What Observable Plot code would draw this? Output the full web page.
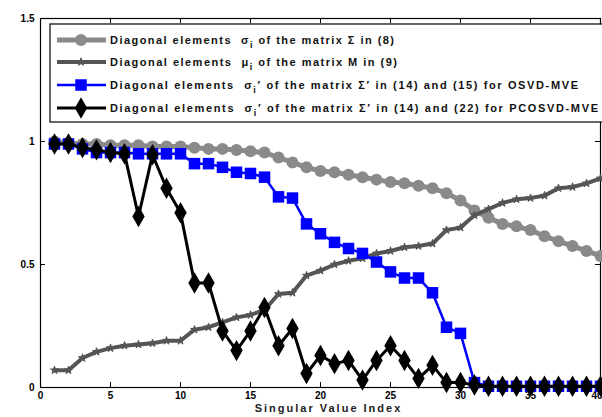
<!DOCTYPE html>
<html><head><meta charset="utf-8">
<script src="https://cdn.jsdelivr.net/npm/d3@7"></script>
<script src="https://cdn.jsdelivr.net/npm/@observablehq/plot@0.6"></script>
<style>body{margin:0;background:#fff;} #chart{width:602px;height:417px;overflow:hidden;}</style>
</head><body><div id="chart"></div>
<script>
const index = d3.range(1, 41);
const sigma = [1.0, 0.995, 0.99, 0.99, 0.985, 0.985, 0.985, 0.98, 0.98, 0.98,
  0.975, 0.97, 0.97, 0.965, 0.96, 0.955, 0.935, 0.915, 0.895, 0.88,
  0.875, 0.865, 0.855, 0.845, 0.835, 0.83, 0.82, 0.81, 0.79, 0.76,
  0.72, 0.69, 0.665, 0.655, 0.64, 0.615, 0.595, 0.575, 0.555, 0.535];
const mu = [0.07, 0.07, 0.12, 0.145, 0.16, 0.17, 0.175, 0.18, 0.19, 0.19,
  0.235, 0.245, 0.265, 0.285, 0.295, 0.315, 0.38, 0.385, 0.455, 0.475,
  0.5, 0.515, 0.525, 0.545, 0.555, 0.57, 0.575, 0.585, 0.64, 0.65,
  0.7, 0.725, 0.75, 0.765, 0.77, 0.78, 0.81, 0.815, 0.83, 0.85];
const osvd = [0.99, 0.99, 0.97, 0.955, 0.955, 0.955, 0.95, 0.95, 0.95, 0.95,
  0.91, 0.91, 0.895, 0.875, 0.87, 0.855, 0.775, 0.77, 0.665, 0.625,
  0.59, 0.565, 0.545, 0.51, 0.47, 0.445, 0.445, 0.385, 0.245, 0.22,
  0.02, 0.005, 0.005, 0.005, 0.005, 0.005, 0.005, 0.005, 0.005, 0.005];
const pcosvd = [0.99, 0.99, 0.975, 0.966, 0.955, 0.95, 0.695, 0.946, 0.81, 0.71,
  0.425, 0.425, 0.23, 0.15, 0.23, 0.325, 0.17, 0.24, 0.057, 0.13,
  0.097, 0.11, 0.03, 0.11, 0.17, 0.11, 0.037, 0.09, 0.02, 0.02,
  0.01, 0.005, 0.005, 0.005, 0.005, 0.005, 0.005, 0.005, 0.005, 0.005];
const xTicks = [0, 5, 10, 15, 20, 25, 30, 35, 40];
const yTicks = [0, 0.5, 1, 1.5];
const yTickLabels = ["0", "0.5", "1", "1.5"];
const xLabel = "Singular Value Index";
const seriesNames = ["sigma", "mu", "osvd", "pcosvd"];
// legend text segments: [text, kind] where kind = "n" normal, "sub" subscript
const legendTexts = [
  [["Diagonal elements  σ", "n"], ["i", "sub"], [" of the matrix Σ in (8)", "n"]],
  [["Diagonal elements  μ", "n"], ["i", "sub"], [" of the matrix M in (9)", "n"]],
  [["Diagonal elements  σ", "n"], ["i", "sub"], ["′ of the matrix Σ′ in (14) and (15) for OSVD-MVE", "n"]],
  [["Diagonal elements  σ", "n"], ["i", "sub"], ["′ of the matrix Σ′ in (14) and (22) for PCOSVD-MVE", "n"]]
];

const styles = {
  sigma: {stroke: "#8a8a8a", sw: 5, symbol: "circle", r: 6},
  mu: {stroke: "#555555", sw: 4, symbol: "star", r: 2.5},
  osvd: {stroke: "#0000ff", sw: 2.5, symbol: "square", r: 6.5},
  pcosvd: {stroke: "#000000", sw: 3, symbol: "diamond", r: 6.5}
};
const values = {sigma, mu, osvd, pcosvd};
const tables = Object.fromEntries(seriesNames.map(n => [n, index.map((x, i) => ({x, y: values[n][i]}))]));

const W = 602, H = 417, mT = 18, mB = 30, mL = 40, mR = 2;
const innerH = H - mT - mB, innerW = W - mL - mR;
const tick = 5;

const marks = [
  Plot.frame({stroke: "black", strokeWidth: 1.2}),
  Plot.tickX(xTicks, {x: d => d, insetTop: innerH - tick, stroke: "black"}),
  Plot.tickX(xTicks, {x: d => d, insetBottom: innerH - tick, stroke: "black"}),
  Plot.tickY(yTicks, {y: d => d, insetRight: innerW - tick, stroke: "black"}),
  Plot.tickY(yTicks, {y: d => d, insetLeft: innerW - tick, stroke: "black"}),
  Plot.axisX({ticks: xTicks, tickSize: 0, tickPadding: 4, label: null, fontWeight: "bold", fontSize: 10}),
  Plot.axisY({ticks: yTicks, tickSize: 0, tickPadding: 6, label: null, tickFormat: d => yTickLabels[yTicks.indexOf(d)], fontWeight: "bold", fontSize: 10}),
  Plot.text([xLabel], {frameAnchor: "bottom", dy: 24, dx: 8, text: d => d, fontWeight: "bold", fontSize: 11, fill: "#222"})
];
for (const n of seriesNames) {
  const s = styles[n];
  marks.push(Plot.line(tables[n], {x: "x", y: "y", stroke: s.stroke, strokeWidth: s.sw}));
  marks.push(Plot.dot(tables[n], {x: "x", y: "y", symbol: () => s.symbol, r: s.r, fill: s.stroke, stroke: s.stroke, strokeWidth: n === "mu" ? 1 : 0}));
}

const chart = Plot.plot({
  width: W, height: H,
  marginTop: mT, marginBottom: mB, marginLeft: mL, marginRight: mR,
  x: {domain: [0, 40]},
  y: {domain: [0, 1.5]},
  symbol: {type: "identity"},
  style: {fontFamily: "Liberation Sans, Arial, sans-serif", background: "white", color: "black"},
  marks
});
document.getElementById("chart").appendChild(chart);

const svg = d3.select(chart);
svg.selectAll("text").filter(function () { return this.textContent === xLabel; })
  .attr("letter-spacing", 2);
// keep the last x tick label ("40") inside the picture
svg.selectAll("[aria-label='x-axis tick label'] text")
  .filter(function () { return this.textContent === String(xTicks[xTicks.length - 1]); })
  .attr("text-anchor", "end").attr("dx", 2);

// Legend drawn inside the plot area
const lg = svg.append("g").attr("font-family", "Liberation Sans, Arial, sans-serif")
  .attr("font-weight", "bold").attr("font-size", 11).attr("text-anchor", "start");
lg.append("rect").attr("x", 50).attr("y", 24).attr("width", 560).attr("height", 98)
  .attr("fill", "white").attr("stroke", "black").attr("stroke-width", 1.2);
const rowY = [40, 62, 85, 108];
const rowLen = [284, 287, 468, 488];
const sym = {circle: d3.symbolCircle, star: d3.symbolStar, square: d3.symbolSquare, diamond: d3.symbolDiamond};
seriesNames.forEach((n, i) => {
  const s = styles[n];
  const y = rowY[i];
  lg.append("line").attr("x1", 57).attr("x2", 106).attr("y1", y).attr("y2", y)
    .attr("stroke", s.stroke).attr("stroke-width", s.sw);
  lg.append("path").attr("transform", `translate(81,${y})`)
    .attr("d", d3.symbol(sym[s.symbol], Math.PI * s.r * s.r)())
    .attr("fill", s.stroke).attr("stroke", s.stroke).attr("stroke-width", n === "mu" ? 1 : 0);
  const t = lg.append("text").attr("x", 110).attr("y", y + 4).attr("fill", "#111")
    .attr("text-anchor", "start").attr("textLength", rowLen[i]).attr("lengthAdjust", "spacing")
    .style("white-space", "pre");
  legendTexts[i].forEach(([txt, kind], j) => {
    const ts = t.append("tspan").text(txt);
    if (kind === "sub") ts.attr("dy", 4).attr("font-size", 9);
    else if (j > 0) ts.attr("dy", -4);
  });
});
</script>
</body></html>
